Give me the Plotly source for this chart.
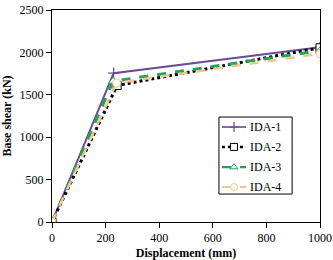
import plotly.graph_objects as go

names = ["IDA-1", "IDA-2", "IDA-3", "IDA-4"]
disp = [
    [0, 230, 1000],
    [0, 243, 1000],
    [0, 228, 1000],
    [0, 241, 1000],
]
shear = [
    [0, 1755, 2060],
    [0, 1610, 2055],
    [0, 1660, 2020],
    [0, 1640, 1985],
]
colors = ["#6A4C93", "#000000", "#22A45A", "#F9C28F"]
dashes = ["solid", "dot", "dash", "dash"]
symbols = ["cross-thin-open", "square", "triangle-up", "circle"]
widths = [2, 3, 3, 2.5]


def mk(i, size):
    if i == 0:
        return dict(symbol=symbols[i], size=size, color=colors[i],
                    line=dict(color=colors[i], width=1.2))
    return dict(symbol=symbols[i], size=size, color="white",
                line=dict(color=colors[i], width=1))


FAM = "Liberation Serif"
fig = go.Figure()
for i in range(4):
    fig.add_trace(go.Scatter(
        x=disp[i], y=shear[i], name=names[i], mode="lines+markers",
        line=dict(color=colors[i], dash=dashes[i], width=widths[i]),
        marker=mk(i, 8), showlegend=False,
    ))

# manual legend (layout in plot-area fractions)
LX0, LX1, LY0, LY1 = 0.623, 0.896, 0.132, 0.495
rows = [0.448, 0.354, 0.259, 0.165]
sx0, sx1, sm, tx = 0.634, 0.724, 0.679, 0.731
fig.add_shape(type="rect", xref="paper", yref="paper", x0=LX0, x1=LX1, y0=LY0, y1=LY1,
              line=dict(color="black", width=1), fillcolor="white", layer="below")
for i in range(4):
    fig.add_shape(type="line", xref="paper", yref="paper", x0=sx0, x1=sx1,
                  y0=rows[i], y1=rows[i], layer="below",
                  line=dict(color=colors[i], dash=dashes[i], width=widths[i] * 0.8))
    fig.add_annotation(x=tx, y=rows[i], xref="paper", yref="paper", text=names[i],
                       showarrow=False, xanchor="left", yanchor="middle",
                       font=dict(family=FAM, size=12, color="black"))
    fig.add_trace(go.Scatter(
        x=[sm], y=[rows[i]], xaxis="x2", yaxis="y2", mode="markers", showlegend=False,
        hoverinfo="skip", marker=mk(i, 7),
    ))

font = dict(family=FAM, size=12, color="black")
axfont = dict(family=FAM, size=12, color="black")
fig.update_layout(
    width=333, height=260, margin=dict(l=52, r=13, t=10, b=38),
    paper_bgcolor="white", plot_bgcolor="white", font=font,
    showlegend=False,
    xaxis=dict(range=[0, 1000], tickvals=[0, 200, 400, 600, 800, 1000],
               showline=True, linecolor="black", mirror=True, ticks="outside",
               ticklen=5, tickcolor="black", showgrid=False, zeroline=False,
               automargin=False, tickfont=axfont,
               title=dict(text="<b>Displacement (mm)</b>", standoff=10, font=axfont)),
    yaxis=dict(range=[0, 2500], tickvals=[0, 500, 1000, 1500, 2000, 2500],
               showline=True, linecolor="black", mirror=True, ticks="outside",
               ticklen=5, tickcolor="black", showgrid=False, zeroline=False,
               automargin=False, tickfont=axfont,
               title=dict(text="<b>Base shear (kN)</b>", standoff=6, font=axfont)),
    xaxis2=dict(overlaying="x", range=[0, 1], visible=False, fixedrange=True),
    yaxis2=dict(overlaying="y", range=[0, 1], visible=False, fixedrange=True),
)
fig.write_html("out.html")
